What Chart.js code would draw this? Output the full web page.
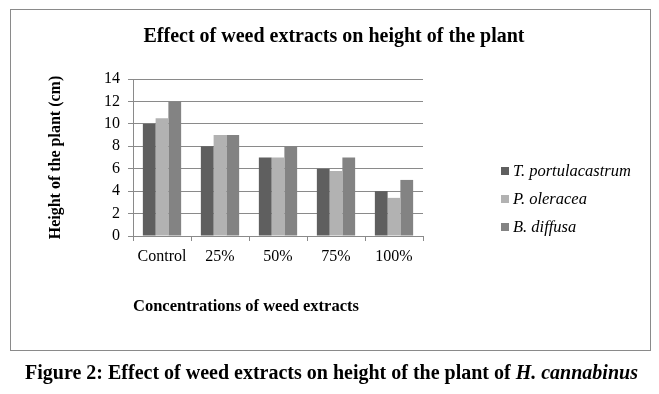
<!DOCTYPE html>
<html>
<head>
<meta charset="utf-8">
<script src="https://cdn.jsdelivr.net/npm/chart.js@4"></script>
<style>
    body { margin: 0; background: #fff; }
    #wrap { position: relative; width: 659px; height: 394px; }
    #frame {
        position: absolute; left: 10px; top: 9px; width: 641px; height: 342px;
        border: 1px solid #8a8a8a; box-sizing: border-box;
    }
    canvas { position: absolute; left: 0; top: 0; }
    #caption {
        position: absolute; left: 2px; top: 361px; width: 659px; text-align: center;
        font: bold 20px "Liberation Serif", "Times New Roman", serif; color: #000;
    }
</style>
</head>
<body>
<div id="wrap">
    <div id="frame"></div>
    <canvas id="chart" width="659" height="394"></canvas>
    <div id="caption">Figure 2: Effect of weed extracts on height of the plant of <i>H. cannabinus</i></div>
</div>
<script>
const categories = ["Control", "25%", "50%", "75%", "100%"];
const seriesNames = ["T. portulacastrum", "P. oleracea", "B. diffusa"];
const tPortulacastrum = [10, 8, 7, 6, 4];
const pOleracea = [10.5, 9, 7, 5.8, 3.4];
const bDiffusa = [12, 9, 8, 7, 5];
const yTicks = [0, 2, 4, 6, 8, 10, 12, 14];

const colors = ["#5f5f5f", "#b2b2b2", "#838383"];
const serif = "'Liberation Serif', 'Times New Roman', serif";

// legend drawn by hand so it sits where the original one does
const sideLegend = {
    id: "sideLegend",
    afterDraw(chart) {
        const ctx = chart.ctx;
        ctx.save();
        ctx.font = "italic 16.5px " + serif;
        ctx.textBaseline = "middle";
        chart.data.datasets.forEach((ds, i) => {
            const cy = 171 + i * 28;
            ctx.fillStyle = ds.backgroundColor;
            ctx.fillRect(501, cy - 4, 8, 8);
            ctx.fillStyle = "#000";
            ctx.fillText(ds.label, 513, cy + 1);
        });
        ctx.restore();
    },
};

const ctx = document.getElementById("chart").getContext("2d");
new Chart(ctx, {
    type: "bar",
    data: {
        labels: categories,
        datasets: [
            { label: seriesNames[0], data: tPortulacastrum, backgroundColor: colors[0] },
            { label: seriesNames[1], data: pOleracea, backgroundColor: colors[1] },
            { label: seriesNames[2], data: bDiffusa, backgroundColor: colors[2] },
        ],
    },
    options: {
        responsive: false,
        animation: false,
        devicePixelRatio: 1,
        layout: { padding: { top: 20, left: 36, right: 27, bottom: 75 } },
        datasets: { bar: { categoryPercentage: 0.66, barPercentage: 1, borderWidth: 0 } },
        plugins: {
            legend: { display: false },
            tooltip: { enabled: false },
            title: {
                display: true,
                text: "Effect of weed extracts on height of the plant",
                color: "#000",
                font: { family: serif, size: 20, weight: "bold" },
                padding: { top: 5, bottom: 30 },
            },
        },
        scales: {
            x: {
                afterFit: (scale) => { scale.height = 83; },
                grid: { drawOnChartArea: false, drawTicks: true, tickLength: 5, color: "#8a8a8a", offset: true },
                border: { color: "#8a8a8a" },
                ticks: { color: "#000", font: { family: serif, size: 16 }, padding: 6, maxRotation: 0 },
                title: {
                    display: true,
                    align: "start",
                    text: "Concentrations of weed extracts",
                    color: "#000",
                    font: { family: serif, size: 16.5, weight: "bold" },
                    padding: { top: 0, bottom: 2 },
                },
            },
            y: {
                min: 0,
                max: 14,
                afterFit: (scale) => { scale.width = 97; },
                afterBuildTicks: (scale) => { scale.ticks = yTicks.map((v) => ({ value: v })); },
                grid: { color: "#8a8a8a", tickLength: 5 },
                border: { color: "#8a8a8a" },
                ticks: { color: "#000", font: { family: serif, size: 16 }, padding: 8 },
                title: {
                    display: true,
                    text: "Height of the plant (cm)",
                    color: "#000",
                    font: { family: serif, size: 16, weight: "bold" },
                    padding: { top: 10, bottom: 0 },
                },
            },
            // empty right axis, only keeps room for the legend
            side: {
                position: "right",
                afterFit: (scale) => { scale.width = 209; },
                grid: { display: false },
                border: { display: false },
                ticks: { display: false },
            },
        },
    },
    plugins: [sideLegend],
});
</script>
</body>
</html>
